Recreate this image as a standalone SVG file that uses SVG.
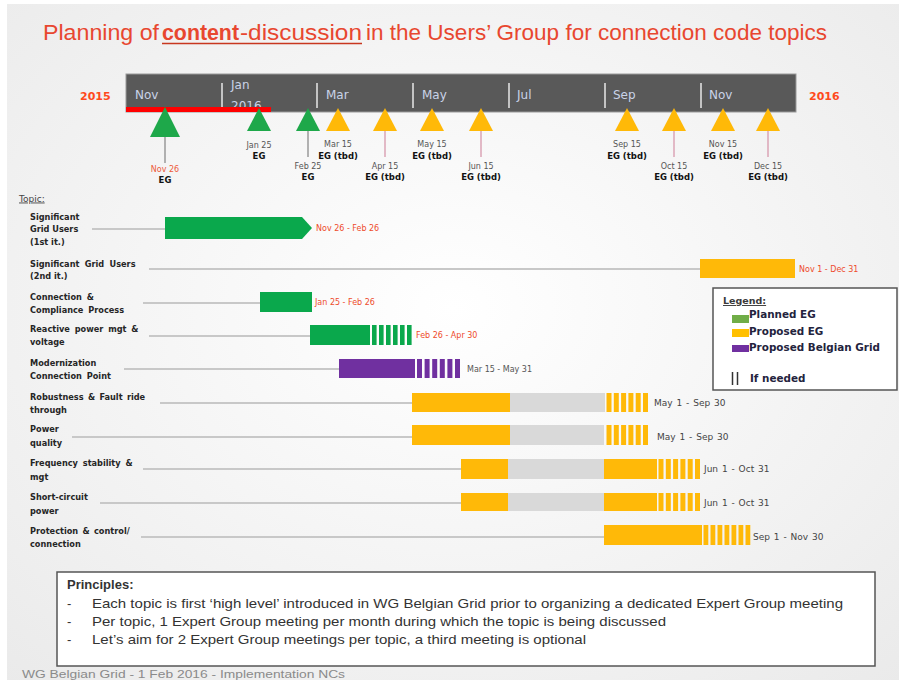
<svg xmlns="http://www.w3.org/2000/svg" width="899" height="680" viewBox="0 0 899 680">
<defs>
<radialGradient id="bg" cx="0.5" cy="0.45" r="0.75">
<stop offset="0" stop-color="#ffffff"/>
<stop offset="1" stop-color="#eaeaea"/>
</radialGradient>
<style>
.topic{font-family:"DejaVu Sans",sans-serif;font-size:8.2px;font-weight:bold;fill:#262626}
.mon{font-family:"DejaVu Sans",sans-serif;font-size:12px;fill:#c9d3e8}
.yr{font-family:"DejaVu Sans",sans-serif;font-size:11px;font-weight:bold;fill:#ff4a1c}
.md{font-family:"DejaVu Sans",sans-serif;font-size:8px;fill:#555}
.mdr{font-family:"DejaVu Sans",sans-serif;font-size:8px;fill:#ee5a3a}
.eg{font-family:"DejaVu Sans",sans-serif;font-size:8.5px;font-weight:bold;fill:#111}
.rl{font-family:"DejaVu Sans",sans-serif;font-size:8px;fill:#ee4b2b}
.gl{font-family:"DejaVu Sans",sans-serif;font-size:9px;fill:#444;word-spacing:1px}
.lg{font-family:"DejaVu Sans",sans-serif;font-size:10.4px;font-weight:bold;fill:#23233d}
.pr{font-family:"Liberation Sans",sans-serif;font-size:13px;fill:#333}
.conn{stroke:#c8c8c8;stroke-width:2;fill:none}
.stemg{stroke:#9a9a9a;stroke-width:1.5}
.stemp{stroke:#dba4b6;stroke-width:1.5}
.g{fill:#0aa84c}
.y{fill:#ffb908}
.p{fill:#7030a0}
.gr{fill:#d9d9d9}
.tg{fill:#1ea84a}
.ty{fill:#ffb908}
.box{fill:#ffffff;stroke:#555;stroke-width:1.5}
</style>
</defs>
<rect x="0" y="0" width="899" height="680" fill="#ffffff"/>
<rect x="7" y="4" width="892" height="676" fill="url(#bg)"/>

<!-- Title -->
<g id="title">
<text x="43" y="40" font-family="Liberation Sans,sans-serif" font-size="22" fill="#e8472f" textLength="116" lengthAdjust="spacingAndGlyphs">Planning of</text>
<text x="162" y="40" font-family="Liberation Sans,sans-serif" font-size="22" font-weight="bold" fill="#e8472f" textLength="77" lengthAdjust="spacingAndGlyphs">content</text>
<text x="240" y="40" font-family="Liberation Sans,sans-serif" font-size="22" fill="#e8472f" textLength="122" lengthAdjust="spacingAndGlyphs">-discussion</text>
<line x1="162" y1="43.5" x2="362" y2="43.5" stroke="#c8371f" stroke-width="1.6"/>
<text x="366" y="40" font-family="Liberation Sans,sans-serif" font-size="22" fill="#e8472f" textLength="461" lengthAdjust="spacingAndGlyphs">in the Users’ Group for connection code topics</text>
</g>

<!-- Timeline -->
<g id="timeline">
<rect x="126" y="74" width="670" height="38" fill="#595959" stroke="#9a9a9a" stroke-width="1"/>
<g stroke="#c4c4c4" stroke-width="2">
<line x1="222" y1="83" x2="222" y2="108"/>
<line x1="317" y1="83" x2="317" y2="108"/>
<line x1="413" y1="83" x2="413" y2="108"/>
<line x1="509" y1="83" x2="509" y2="108"/>
<line x1="605" y1="83" x2="605" y2="108"/>
<line x1="701" y1="83" x2="701" y2="108"/>
</g>
<text class="mon" x="135" y="99">Nov</text>
<text class="mon" x="231" y="89">Jan</text>
<text class="mon" x="231" y="109.5">2016</text>
<text class="mon" x="326" y="99">Mar</text>
<text class="mon" x="422" y="99">May</text>
<text class="mon" x="517" y="99">Jul</text>
<text class="mon" x="613" y="99">Sep</text>
<text class="mon" x="709" y="99">Nov</text>
<rect x="126" y="107" width="145" height="5" fill="#ff0000"/>
<text class="yr" x="80" y="99.5">2015</text>
<text class="yr" x="809" y="99.5">2016</text>
</g>

<!-- Connectors -->
<g id="connectors">
<line class="stemg" x1="165" y1="137" x2="165" y2="163"/>
<line class="stemg" x1="308" y1="131" x2="308" y2="157"/>
<line class="stemp" x1="385" y1="131" x2="385" y2="157"/>
<line class="stemp" x1="481" y1="131" x2="481" y2="157"/>
<line class="stemp" x1="674" y1="131" x2="674" y2="157"/>
<line class="stemp" x1="768" y1="131" x2="768" y2="157"/>
<line class="conn" x1="92" y1="229" x2="165" y2="229"/>
<line class="conn" x1="149" y1="269" x2="700" y2="269"/>
<line class="conn" x1="143" y1="303" x2="260" y2="303"/>
<line class="conn" x1="149" y1="336" x2="310" y2="336"/>
<line class="conn" x1="124" y1="369" x2="339" y2="369"/>
<line class="conn" x1="160" y1="403" x2="412" y2="403"/>
<line class="conn" x1="72" y1="437" x2="412" y2="437"/>
<line class="conn" x1="143" y1="469" x2="461" y2="469"/>
<line class="conn" x1="100" y1="503" x2="461" y2="503"/>
<line class="conn" x1="141" y1="537" x2="604" y2="537"/>
</g>

<!-- Milestones -->
<g id="m-nov26">
<polygon class="tg" points="165,107 180,137 150,137"/>
<text class="mdr" x="165" y="172" text-anchor="middle">Nov 26</text>
<text class="eg" x="165" y="183" text-anchor="middle">EG</text>
</g>
<g id="m-jan25">
<polygon class="tg" points="259,108 271,131 247,131"/>
<text class="md" x="259" y="148" text-anchor="middle">Jan 25</text>
<text class="eg" x="259" y="159" text-anchor="middle">EG</text>
</g>
<g id="m-feb25">
<polygon class="tg" points="308,108 320,131 296,131"/>
<text class="md" x="308" y="169" text-anchor="middle">Feb 25</text>
<text class="eg" x="308" y="180" text-anchor="middle">EG</text>
</g>
<g id="m-mar15">
<polygon class="ty" points="338,108 350,131 326,131"/>
<text class="md" x="338" y="147" text-anchor="middle">Mar 15</text>
<text class="eg" x="338" y="159" text-anchor="middle">EG (tbd)</text>
</g>
<g id="m-apr15">
<polygon class="ty" points="385,108 397,131 373,131"/>
<text class="md" x="385" y="169" text-anchor="middle">Apr 15</text>
<text class="eg" x="385" y="180" text-anchor="middle">EG (tbd)</text>
</g>
<g id="m-may15">
<polygon class="ty" points="432,108 444,131 420,131"/>
<text class="md" x="432" y="147" text-anchor="middle">May 15</text>
<text class="eg" x="432" y="159" text-anchor="middle">EG (tbd)</text>
</g>
<g id="m-jun15">
<polygon class="ty" points="481,108 493,131 469,131"/>
<text class="md" x="481" y="169" text-anchor="middle">Jun 15</text>
<text class="eg" x="481" y="180" text-anchor="middle">EG (tbd)</text>
</g>
<g id="m-sep15">
<polygon class="ty" points="627,108 639,131 615,131"/>
<text class="md" x="627" y="147" text-anchor="middle">Sep 15</text>
<text class="eg" x="627" y="159" text-anchor="middle">EG (tbd)</text>
</g>
<g id="m-oct15">
<polygon class="ty" points="674,108 686,131 662,131"/>
<text class="md" x="674" y="169" text-anchor="middle">Oct 15</text>
<text class="eg" x="674" y="180" text-anchor="middle">EG (tbd)</text>
</g>
<g id="m-nov15">
<polygon class="ty" points="723,108 735,131 711,131"/>
<text class="md" x="723" y="147" text-anchor="middle">Nov 15</text>
<text class="eg" x="723" y="159" text-anchor="middle">EG (tbd)</text>
</g>
<g id="m-dec15">
<polygon class="ty" points="768,108 780,131 756,131"/>
<text class="md" x="768" y="169" text-anchor="middle">Dec 15</text>
<text class="eg" x="768" y="180" text-anchor="middle">EG (tbd)</text>
</g>

<!-- Topic header -->
<text x="19" y="201.5" font-family="DejaVu Sans,sans-serif" font-size="9" fill="#444" text-decoration="underline">Topic:</text>

<!-- Rows -->
<g id="row1">
<text class="topic" x="30" y="219.5">Significant</text>
<text class="topic" x="30" y="232">Grid Users</text>
<text class="topic" x="30" y="245" font-weight="normal">(1st it.)</text>
<polygon class="g" points="165,217 302,217 312,228 302,239 165,239"/>
<text class="rl" x="316" y="231">Nov 26 - Feb 26</text>
</g>
<g id="row2">
<text class="topic" x="30" y="266.5" word-spacing="2.5">Significant Grid Users</text>
<text class="topic" x="30" y="279" font-weight="normal">(2nd it.)</text>
<rect class="y" x="700" y="259" width="95" height="19"/>
<text class="rl" x="799" y="272">Nov 1 - Dec 31</text>
</g>
<g id="row3">
<text class="topic" x="30" y="299.5" word-spacing="2">Connection &amp;</text>
<text class="topic" x="30" y="313" word-spacing="2">Compliance Process</text>
<rect class="g" x="260" y="292" width="52" height="20"/>
<text class="rl" x="315" y="305">Jan 25 - Feb 26</text>
</g>
<g id="row4">
<text class="topic" x="30" y="332" word-spacing="2">Reactive power mgt &amp;</text>
<text class="topic" x="30" y="345">voltage</text>
<rect class="g" x="310" y="325" width="60" height="20"/>
<rect class="g" x="372" y="325" width="4.6" height="20"/>
<rect class="g" x="379" y="325" width="4.6" height="20"/>
<rect class="g" x="386" y="325" width="4.6" height="20"/>
<rect class="g" x="393" y="325" width="4.6" height="20"/>
<rect class="g" x="400" y="325" width="4.6" height="20"/>
<rect class="g" x="407" y="325" width="4.6" height="20"/>
<text class="rl" x="416" y="338">Feb 26 - Apr 30</text>
</g>
<g id="row5">
<text class="topic" x="30" y="365.5">Modernization</text>
<text class="topic" x="30" y="379" word-spacing="2">Connection Point</text>
<rect class="p" x="339" y="359" width="76" height="19"/>
<rect class="p" x="417" y="359" width="5" height="19"/>
<rect class="p" x="424.6" y="359" width="5" height="19"/>
<rect class="p" x="432.2" y="359" width="5" height="19"/>
<rect class="p" x="439.8" y="359" width="5" height="19"/>
<rect class="p" x="447.4" y="359" width="5" height="19"/>
<rect class="p" x="455" y="359" width="5" height="19"/>
<text class="md" x="467" y="372" font-size="8.5">Mar 15 - May 31</text>
</g>
<g id="row6">
<text class="topic" x="30" y="399.5" word-spacing="1.5">Robustness &amp; Fault ride</text>
<text class="topic" x="30" y="413">through</text>
<rect class="y" x="412" y="393" width="98" height="19"/>
<rect class="gr" x="510" y="393" width="95" height="19"/>
<rect class="y" x="606.5" y="393" width="5" height="19"/>
<rect class="y" x="613.8" y="393" width="5" height="19"/>
<rect class="y" x="621.1" y="393" width="5" height="19"/>
<rect class="y" x="628.4" y="393" width="5" height="19"/>
<rect class="y" x="635.7" y="393" width="5" height="19"/>
<rect class="y" x="643" y="393" width="5" height="19"/>
<text class="gl" x="654" y="406">May 1 - Sep 30</text>
</g>
<g id="row7">
<text class="topic" x="30" y="432">Power</text>
<text class="topic" x="30" y="445.5">quality</text>
<rect class="y" x="412" y="425" width="98" height="20"/>
<rect class="gr" x="510" y="425" width="94" height="20"/>
<rect class="y" x="606.5" y="425" width="5" height="20"/>
<rect class="y" x="613.8" y="425" width="5" height="20"/>
<rect class="y" x="621.1" y="425" width="5" height="20"/>
<rect class="y" x="628.4" y="425" width="5" height="20"/>
<rect class="y" x="635.7" y="425" width="5" height="20"/>
<rect class="y" x="643" y="425" width="5" height="20"/>
<text class="gl" x="657" y="440">May 1 - Sep 30</text>
</g>
<g id="row8">
<text class="topic" x="30" y="466" word-spacing="2">Frequency stability &amp;</text>
<text class="topic" x="30" y="479.5">mgt</text>
<rect class="y" x="461" y="459" width="47" height="20"/>
<rect class="gr" x="508" y="459" width="96" height="20"/>
<rect class="y" x="604" y="459" width="53" height="20"/>
<rect class="y" x="658.5" y="459" width="5" height="20"/>
<rect class="y" x="665.8" y="459" width="5" height="20"/>
<rect class="y" x="673.1" y="459" width="5" height="20"/>
<rect class="y" x="680.4" y="459" width="5" height="20"/>
<rect class="y" x="687.7" y="459" width="5" height="20"/>
<rect class="y" x="695" y="459" width="5" height="20"/>
<text class="gl" x="704" y="472">Jun 1 - Oct 31</text>
</g>
<g id="row9">
<text class="topic" x="30" y="500">Short-circuit</text>
<text class="topic" x="30" y="513.5">power</text>
<rect class="y" x="461" y="493" width="47" height="18"/>
<rect class="gr" x="508" y="493" width="96" height="18"/>
<rect class="y" x="604" y="493" width="53" height="18"/>
<rect class="y" x="658.5" y="493" width="5" height="18"/>
<rect class="y" x="665.8" y="493" width="5" height="18"/>
<rect class="y" x="673.1" y="493" width="5" height="18"/>
<rect class="y" x="680.4" y="493" width="5" height="18"/>
<rect class="y" x="687.7" y="493" width="5" height="18"/>
<rect class="y" x="695" y="493" width="5" height="18"/>
<text class="gl" x="704" y="506">Jun 1 - Oct 31</text>
</g>
<g id="row10">
<text class="topic" x="30" y="533.5" word-spacing="1.5">Protection &amp; control/</text>
<text class="topic" x="30" y="547">connection</text>
<rect class="y" x="604" y="525" width="98" height="20"/>
<rect class="y" x="703.5" y="525" width="4.8" height="20"/>
<rect class="y" x="710.5" y="525" width="4.8" height="20"/>
<rect class="y" x="717.5" y="525" width="4.8" height="20"/>
<rect class="y" x="724.5" y="525" width="4.8" height="20"/>
<rect class="y" x="731.5" y="525" width="4.8" height="20"/>
<rect class="y" x="738.5" y="525" width="4.8" height="20"/>
<rect class="y" x="745.5" y="525" width="4.8" height="20"/>
<text class="gl" x="753" y="540">Sep 1 - Nov 30</text>
</g>

<!-- Legend -->
<g id="legend">
<rect class="box" x="713" y="288" width="184" height="102"/>
<text x="723" y="304" font-family="DejaVu Sans,sans-serif" font-size="9.5" font-weight="bold" fill="#3a3a3a" text-decoration="underline">Legend:</text>
<rect x="732" y="315" width="17" height="8" fill="#70ad47"/>
<text class="lg" x="749" y="318">Planned EG</text>
<rect x="732" y="329" width="17" height="8" fill="#ffc000"/>
<text class="lg" x="749" y="335">Proposed EG</text>
<rect x="732" y="345" width="17" height="7" fill="#7030a0"/>
<text class="lg" x="749" y="350.5">Proposed Belgian Grid</text>
<line x1="732.5" y1="372" x2="732.5" y2="385" stroke="#333" stroke-width="1.5"/>
<line x1="737.5" y1="372" x2="737.5" y2="385" stroke="#333" stroke-width="1.5"/>
<text class="lg" x="750" y="382" fill="#3a3026" font-size="10">If needed</text>
</g>

<!-- Principles -->
<g id="principles">
<rect class="box" x="57" y="572" width="818" height="94"/>
<text class="pr" x="67" y="589" font-weight="bold" font-size="13.5">Principles:</text>
<text class="pr" x="67" y="608">-</text>
<text class="pr" x="92" y="608" textLength="751" lengthAdjust="spacingAndGlyphs">Each topic  is first ‘high level’  introduced  in WG Belgian Grid prior to organizing a dedicated  Expert Group  meeting</text>
<text class="pr" x="67" y="626">-</text>
<text class="pr" x="92" y="626" textLength="574" lengthAdjust="spacingAndGlyphs">Per topic, 1 Expert Group meeting  per month  during which the topic  is being discussed</text>
<text class="pr" x="67" y="644">-</text>
<text class="pr" x="92" y="644" textLength="494" lengthAdjust="spacingAndGlyphs">Let’s aim for 2 Expert  Group meetings  per topic,  a third meeting  is optional</text>
</g>

<text x="22" y="677.5" font-family="Liberation Sans,sans-serif" font-size="10" fill="#8a8a8a" textLength="323" lengthAdjust="spacingAndGlyphs">WG Belgian Grid - 1 Feb 2016 - Implementation NCs</text>
</svg>
